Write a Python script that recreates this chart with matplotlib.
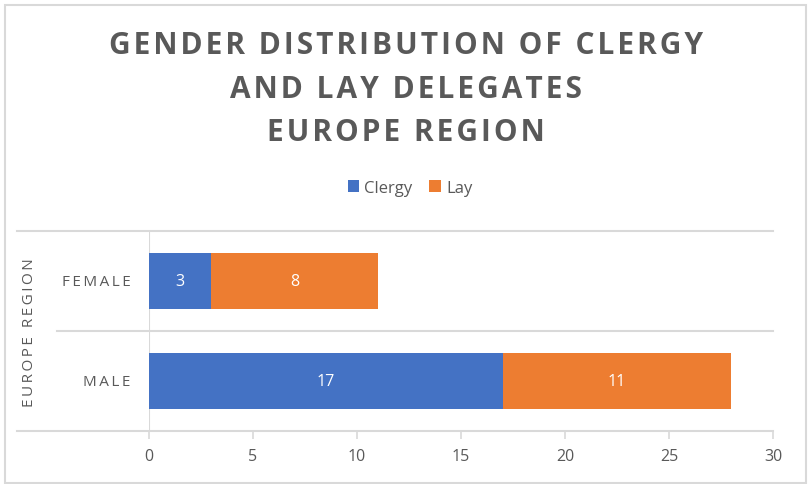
import matplotlib
matplotlib.use("Agg")
import matplotlib.pyplot as plt
from matplotlib.patches import Rectangle
from matplotlib.lines import Line2D

categories = ["MALE", "FEMALE"]
clergy = [17, 3]
lay = [11, 8]
series_names = ["Clergy", "Lay"]
xticks = [0, 5, 10, 15, 20, 25, 30]
title_lines = ["GENDER DISTRIBUTION OF CLERGY", "AND LAY DELEGATES", "EUROPE REGION"]
group_label = "EUROPE REGION"

BLUE = "#4472C4"
ORANGE = "#ED7D31"
GRAY = "#595959"
LINE = "#D9D9D9"
FONT = ["Open Sans", "DejaVu Sans"]

W, H = 808, 485
fig = plt.figure(figsize=(W / 100, H / 100), dpi=100)
fig.patch.set_facecolor("white")

def fx(px):
    return px / W

def fy(py):
    return 1 - py / H

def spaced(s, sep="\u200a"):
    return sep.join(list(s))

# chart border
fig.patches.append(Rectangle((fx(5), fy(484)), fx(806) - fx(5), fy(6) - fy(484),
                             transform=fig.transFigure, fill=False,
                             edgecolor=LINE, linewidth=1.5))

# horizontal separators extending into label area
for yy, x0 in ((232, 17), (332, 57), (432, 17)):
    fig.add_artist(Line2D([fx(x0), fx(773)], [fy(yy), fy(yy)], transform=fig.transFigure,
                          color=LINE, lw=1.5, zorder=-1))

ax = fig.add_axes([fx(149), fy(432), fx(773) - fx(149), fy(232) - fy(432)])
ax.patch.set_visible(False)
y = list(range(len(categories)))
bh = 0.56
b1 = ax.barh(y, clergy, height=bh, color=BLUE, label=series_names[0], zorder=3)
b2 = ax.barh(y, lay, left=clergy, height=bh, color=ORANGE, label=series_names[1], zorder=3)
for bars in (b1, b2):
    for r in bars:
        w = r.get_width()
        ax.text(r.get_x() + w / 2, r.get_y() + r.get_height() / 2, f"{w:g}",
                ha="center", va="center", color="white", fontsize=11.5, family=FONT, zorder=4)

ax.set_xlim(0, 30)
ax.set_ylim(-0.5, 1.5)
ax.set_xticks(xticks)
ax.set_xticklabels([str(t) for t in xticks], color=GRAY, fontsize=11.5, family=FONT)
ax.tick_params(axis="x", length=6, width=1.2, color=LINE, pad=6)
ax.set_yticks([])
for s in ax.spines.values():
    s.set_visible(False)
ax.axvline(0, color=LINE, lw=1.5, zorder=1)

# category labels
for yi, c in zip(y, categories):
    ax.text(-0.9, yi, spaced(c, "\u2009"), ha="right", va="center", color=GRAY,
            fontsize=11, family=FONT, transform=ax.transData, clip_on=False)

fig.text(fx(30), fy(333), spaced(group_label, "\u2009"), rotation=90, ha="center", va="center",
         color=GRAY, fontsize=11, family=FONT)

# title
for i, t in enumerate(title_lines):
    fig.text(fx(406), fy(46 + i * 43.5), spaced(t, "\u200a"), ha="center", va="center",
             color=GRAY, fontsize=21.5, fontweight="bold", family=FONT)

leg = fig.legend(handles=[b1, b2], loc="center", bbox_to_anchor=(fx(410), fy(189)),
                 ncol=2, frameon=False, prop={"family": FONT, "size": 12},
                 handlelength=0.7, handleheight=0.7, handletextpad=0.3, columnspacing=1.0)
for t in leg.get_texts():
    t.set_color(GRAY)

fig.savefig("out.png", dpi=100, facecolor="white")
